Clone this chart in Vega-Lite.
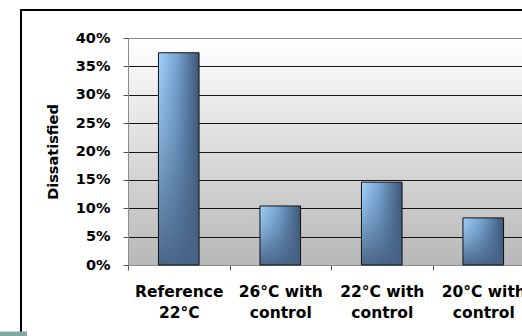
{
  "$schema": "https://vega.github.io/schema/vega-lite/v6.json",
  "autosize": {"type": "none"},
  "padding": {"left": 128, "top": 38, "right": 0, "bottom": 71},
  "width": 394,
  "height": 227,
  "background": "white",
  "config": {
    "font": "DejaVu Sans",
    "view": {
      "stroke": null,
      "fill": {
        "gradient": "linear",
        "x1": 0, "y1": 0, "x2": 0, "y2": 1,
        "stops": [
          {"offset": 0, "color": "#ffffff"},
          {"offset": 1, "color": "#b8b8b8"}
        ]
      }
    }
  },
  "datasets": {
    "survey": [
      {"condition": "Reference 22°C", "dissatisfied": 0.374},
      {"condition": "26°C with control", "dissatisfied": 0.104},
      {"condition": "22°C with control", "dissatisfied": 0.146},
      {"condition": "20°C with control", "dissatisfied": 0.083}
    ]
  },
  "layer": [
    {
      "data": {"name": "survey"},
      "encoding": {
        "x": {
          "field": "condition",
          "type": "nominal",
          "sort": null,
          "scale": {"range": [0, 406], "paddingInner": 0, "paddingOuter": 0},
          "axis": {
            "orient": "bottom",
            "title": null,
            "grid": false,
            "tickBand": "extent",
            "tickSize": 5,
            "tickColor": "#555555",
            "domainColor": "#8c8c8c",
            "labelAngle": 0,
            "labelFont": "DejaVu Sans",
            "labelFontWeight": "bold",
            "labelFontSize": 15.5,
            "labelColor": "#000000",
            "labelPadding": 14,
            "labelLineHeight": 21,
            "labelBaseline": "top",
            "labelExpr": "indexof(datum.label, ' with ') > 0 ? [slice(datum.label, 0, indexof(datum.label, ' control')), 'control'] : split(datum.label, ' ')"
          }
        },
        "y": {
          "field": "dissatisfied",
          "type": "quantitative",
          "scale": {"domain": [0, 0.4], "nice": false, "zero": true},
          "axis": {
            "orient": "left",
            "title": "Dissatisfied",
            "values": [0, 0.05, 0.1, 0.15, 0.2, 0.25, 0.3, 0.35, 0.4],
            "format": ".0%",
            "grid": true,
            "gridColor": {"condition": {"test": "datum.value > 0.399", "value": "#8a8a8a"}, "value": "#151515"},
            "gridWidth": 1,
            "tickSize": 5,
            "tickColor": "#555555",
            "domainColor": "#8c8c8c",
            "labelFont": "DejaVu Sans",
            "labelFontWeight": "bold",
            "labelFontSize": 14.5,
            "labelColor": "#000000",
            "labelPadding": 13,
            "titleFont": "DejaVu Sans",
            "titleFontWeight": "bold",
            "titleFontSize": 14.5,
            "titleColor": "#000000",
            "titlePadding": 15
          }
        }
      },
      "layer": [
        {
          "mark": {
            "type": "bar",
            "width": {"band": 0.4},
            "fill": {
              "gradient": "linear",
              "x1": 0, "y1": 0, "x2": 1, "y2": 0,
              "stops": [
                {"offset": 0, "color": "#a2d2fa"},
                {"offset": 0.45, "color": "#76a5d2"},
                {"offset": 1, "color": "#3d5674"}
              ]
            }
          }
        },
        {
          "mark": {
            "type": "bar",
            "width": {"band": 0.4},
            "stroke": "#111111",
            "strokeWidth": 1,
            "fill": {
              "gradient": "linear",
              "x1": 0, "y1": 0, "x2": 0, "y2": 1,
              "stops": [
                {"offset": 0, "color": "rgba(70,98,132,0)"},
                {"offset": 0.4, "color": "rgba(70,98,132,0.3)"},
                {"offset": 1, "color": "rgba(70,98,132,0.95)"}
              ]
            }
          }
        }
      ]
    },
    {
      "data": {"values": [{}]},
      "layer": [
        {
          "mark": {"type": "rect", "filled": false, "stroke": "#000000", "strokeWidth": 2},
          "encoding": {
            "x": {"datum": -0.2716, "type": "quantitative", "scale": {"domain": [0, 1], "nice": false, "zero": false}, "axis": null},
            "x2": {"datum": 1.5},
            "y": {"datum": 0.4493, "type": "quantitative", "scale": {"domain": [0, 0.4], "nice": false}, "axis": null},
            "y2": {"datum": -0.3}
          }
        },
        {
          "mark": {"type": "rect", "fill": "#7fa89f"},
          "encoding": {
            "x": {"datum": -0.33, "type": "quantitative", "scale": {"domain": [0, 1], "nice": false, "zero": false}, "axis": null},
            "x2": {"datum": -0.2563},
            "y": {"datum": -0.1172, "type": "quantitative", "scale": {"domain": [0, 0.4], "nice": false}, "axis": null},
            "y2": {"datum": -0.3}
          }
        }
      ]
    }
  ],
  "resolve": {"scale": {"x": "independent"}, "axis": {"x": "independent", "y": "independent"}}
}
